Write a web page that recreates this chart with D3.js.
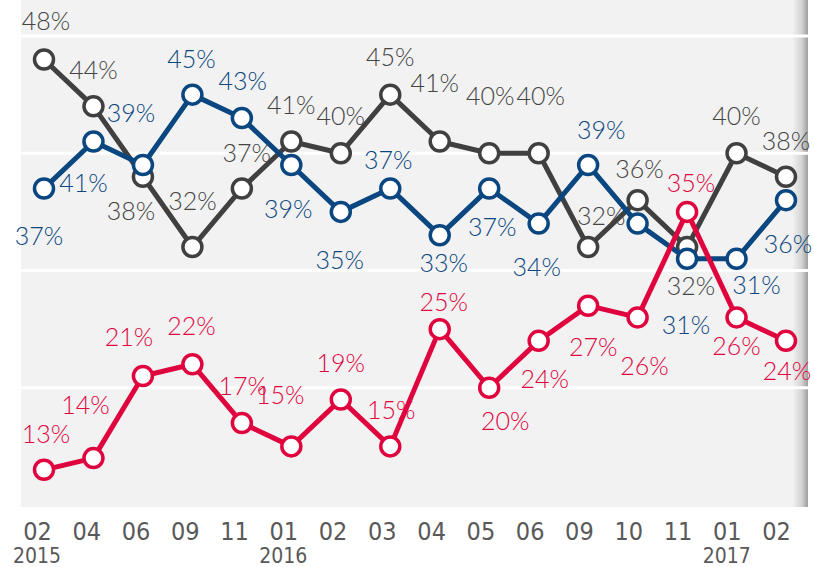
<!DOCTYPE html>
<html>
<head>
<meta charset="utf-8">
<script src="https://cdn.jsdelivr.net/npm/d3@7"></script>
<style>
  html, body { margin: 0; padding: 0; background: #ffffff; }
  svg { display: block; }
</style>
</head>
<body>
<svg id="chart" width="814" height="567"></svg>
<script>
// ---- data ----
const months = ["02","04","06","09","11","01","02","03","04","05","06","09","10","11","01","02"];
const yearLabels = ["2015","","","","","2016","","","","","","","","","2017",""];
const grayValues = [48,44,38,32,37,41,40,45,41,40,40,32,36,32,40,38];
const blueValues = [37,41,39,45,43,39,35,37,33,37,34,39,34,31,31,36];
const redValues  = [13,14,21,22,17,15,19,15,25,20,24,27,26,35,26,24];
const gridValues = [20,30,40,50];

// ---- label placement (layout only) ----
const grayLabelOffsets = [[2,-38],[0,-36],[-12,34],[0,-46],[5,-35],[0,-37],[0,-37],[0,-38],[-5,-59],[1,-57],[2,-57],[13,-31],[2,-31],[4,39],[0,-37],[0,-36]];
const blueLabelOffsets = [[-5,48],[-10,41],[-12,-52],[-1,-36],[1,-37],[-3,44],[-1,48],[-2,-28],[4,28],[3,39],[-2,43],[13,-35],null,[-1,66],[20,26],[2,44]];
const redLabelOffsets  = [[2,-36],[-8,-53],[-14,-39],[-1,-38],[1,-37],[-11,-51],[0,-36],[1,-36],[4,-27],[16,33],[6,38],[5,41],[7,49],[4,-29],[0,29],[1,30]];

const series = [
  {values: grayValues, offsets: grayLabelOffsets, line: "#404040", text: "#444444"},
  {values: blueValues, offsets: blueLabelOffsets, line: "#0a467f", text: "#0a467f"},
  {values: redValues,  offsets: redLabelOffsets,  line: "#e0043e", text: "#e0043e"}
];

const svg = d3.select("#chart");
const idx = d3.range(months.length);

const x = d3.scalePoint().domain(idx).range([44, 786]);
const xLab = d3.scalePoint().domain(idx).range([37, 776]);
const y = d3.scaleLinear().domain([10, 50]).range([505, 36]);

const plotLeft = 21, plotRight = 808, plotTop = 0, plotBottom = y(10) + 2;

// gradient for right shadow
const defs = svg.append("defs");
const grad = defs.append("linearGradient").attr("id", "shade").attr("x1", "0").attr("x2", "1").attr("y1", "0").attr("y2", "0");
grad.append("stop").attr("offset", "0%").attr("stop-color", "#f2f2f2");
grad.append("stop").attr("offset", "60%").attr("stop-color", "#d4d4d4");
grad.append("stop").attr("offset", "100%").attr("stop-color", "#9e9e9e");

svg.append("rect")
  .attr("x", plotLeft).attr("y", plotTop)
  .attr("width", plotRight - plotLeft).attr("height", plotBottom - plotTop)
  .attr("fill", "#f2f2f2");
svg.append("rect")
  .attr("x", plotRight - 16).attr("y", plotTop)
  .attr("width", 16).attr("height", plotBottom - plotTop)
  .attr("fill", "url(#shade)");

// gridlines
svg.append("g").selectAll("line").data(gridValues).join("line")
  .attr("x1", plotLeft).attr("x2", plotRight)
  .attr("y1", d => y(d)).attr("y2", d => y(d))
  .attr("stroke", "#ffffff").attr("stroke-width", 3);

// x axis labels
const xAxis = d3.axisBottom(xLab).tickSize(0).tickPadding(0).tickFormat(i => months[i]);
const ax = svg.append("g").attr("transform", `translate(0, 522)`).call(xAxis);
ax.select(".domain").remove();
ax.selectAll("text")
  .attr("dy", null).attr("y", 18)
  .attr("fill", "#595959")
  .style("font-family", "'DejaVu Sans Condensed', 'DejaVu Sans', sans-serif")
  .style("font-size", "25px");

svg.append("g").selectAll("text").data(idx.filter(i => yearLabels[i])).join("text")
  .attr("x", i => xLab(i)).attr("y", 563)
  .attr("text-anchor", "middle")
  .attr("fill", "#595959")
  .style("font-family", "'DejaVu Sans Condensed', 'DejaVu Sans', sans-serif")
  .style("font-size", "21px")
  .text(i => yearLabels[i]);

// series
const line = d3.line().x(d => x(d.i)).y(d => y(d.v));
const fs = 25;
series.forEach(s => {
  const pts = s.values.map((v, i) => ({i, v}));
  const g = svg.append("g");
  g.append("path").datum(pts)
    .attr("d", line)
    .attr("fill", "none")
    .attr("stroke", s.line)
    .attr("stroke-width", 5)
    .attr("stroke-linejoin", "round");
  g.selectAll("circle").data(pts).join("circle")
    .attr("cx", d => x(d.i)).attr("cy", d => y(d.v))
    .attr("r", 9.5)
    .attr("fill", "#ffffff")
    .attr("stroke", s.line)
    .attr("stroke-width", 3.5);
  g.selectAll("text").data(pts.filter(d => s.offsets[d.i])).join("text")
    .attr("x", d => x(d.i) + s.offsets[d.i][0])
    .attr("y", d => y(d.v) + s.offsets[d.i][1] + fs * 0.36)
    .attr("text-anchor", "middle")
    .attr("fill", s.text)
    .style("font-family", "Lato, 'Open Sans', sans-serif")
    .style("font-weight", "300")
    .style("font-size", fs + "px")
    .text(d => d.v + "%");
});
</script>
</body>
</html>
